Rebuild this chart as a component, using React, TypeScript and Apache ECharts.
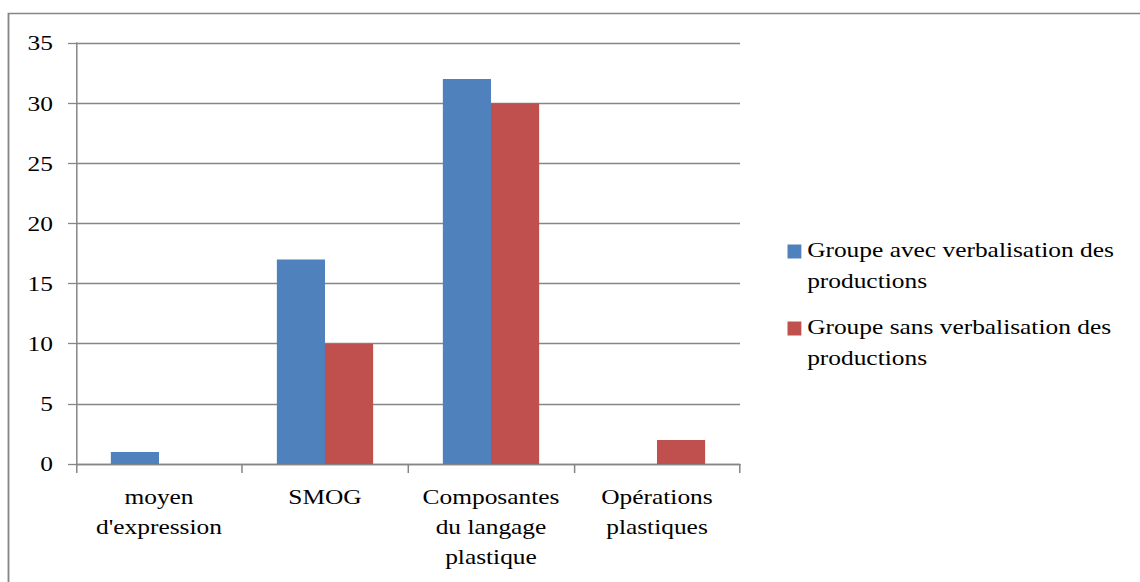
import React, { useEffect, useRef } from "react";
import * as echarts from "echarts";

// Chart data
const categories = ["moyen\nd'expression", "SMOG", "Composantes\ndu langage\nplastique", "Opérations\nplastiques"];
const seriesNames = ["Groupe avec verbalisation des\nproductions", "Groupe sans verbalisation des\nproductions"];
const avecVerbalisation = [1, 17, 32, 0];
const sansVerbalisation = [0, 10, 30, 2];
const yTicks = { min: 0, max: 35, interval: 5 };
const colors = ["#4F81BD", "#C0504D"];

// The layout is drawn in a narrower coordinate space and stretched horizontally.
const STRETCH = 1.155;
const PAGE_W = 1140;
const PAGE_H = 582;
const W = PAGE_W / STRETCH;

const FONT = "Liberation Serif";
const FONT_SIZE = 22;
const GRAY = "#868686";

export default function App() {
  const ref = useRef<HTMLDivElement>(null);

  useEffect(() => {
    if (!ref.current) return;
    const chart = echarts.init(ref.current, undefined, { renderer: "svg" });

    const gridLeft = 76 / STRETCH;
    const gridRight = W - 740 / STRETCH;

    chart.setOption({
      animation: false,
      backgroundColor: "#ffffff",
      color: colors,
      textStyle: { fontFamily: FONT, fontSize: FONT_SIZE },
      graphic: [
        {
          type: "rect",
          silent: true,
          shape: { x: 8.5 / STRETCH, y: 13.5, width: 3000, height: 3000 },
          style: { fill: "none", stroke: GRAY, lineWidth: 1.6 },
        },
      ],
      grid: {
        left: gridLeft,
        right: gridRight,
        top: 43,
        bottom: PAGE_H - 464,
      },
      legend: {
        orient: "vertical",
        left: 787.5 / STRETCH,
        top: 234.5,
        padding: 0,
        itemWidth: 12,
        itemHeight: 42,
        itemGap: 15,
        // square marker aligned with the first line of the two-line label
        icon: "path://M0,0L12,0L12,14L0,14Z M0,41.99L0.01,41.99L0.01,42L0,42Z",
        textStyle: {
          fontFamily: FONT,
          fontSize: FONT_SIZE,
          lineHeight: 31,
          color: "#000000",
        },
        data: seriesNames,
      },
      xAxis: {
        type: "category",
        data: categories,
        boundaryGap: true,
        axisLine: { lineStyle: { color: GRAY, width: 1.3 } },
        axisTick: { show: true, length: 9, lineStyle: { color: GRAY, width: 1.3 } },
        axisLabel: {
          interval: 0,
          margin: 18,
          fontFamily: FONT,
          fontSize: FONT_SIZE,
          lineHeight: 30,
          color: "#000000",
        },
        splitLine: { show: false },
      },
      yAxis: {
        type: "value",
        min: yTicks.min,
        max: yTicks.max,
        interval: yTicks.interval,
        axisLine: { show: true, lineStyle: { color: GRAY, width: 1.3 } },
        axisTick: { show: true, length: 8 / STRETCH, lineStyle: { color: GRAY, width: 1.3 } },
        axisLabel: {
          margin: 20,
          fontFamily: FONT,
          fontSize: FONT_SIZE,
          color: "#000000",
        },
        splitLine: { show: true, lineStyle: { color: GRAY, width: 1.3 } },
      },
      series: [
        {
          name: seriesNames[0],
          type: "bar",
          data: avecVerbalisation,
          barWidth: "29%",
          barGap: "0%",
          itemStyle: { color: colors[0] },
        },
        {
          name: seriesNames[1],
          type: "bar",
          data: sansVerbalisation,
          barWidth: "29%",
          barGap: "0%",
          itemStyle: { color: colors[1] },
        },
      ],
    });

    return () => chart.dispose();
  }, []);

  return (
    <div
      ref={ref}
      style={{
        position: "absolute",
        left: 0,
        top: 0,
        width: W,
        height: PAGE_H,
        transform: `scaleX(${STRETCH})`,
        transformOrigin: "0 0",
      }}
    />
  );
}
